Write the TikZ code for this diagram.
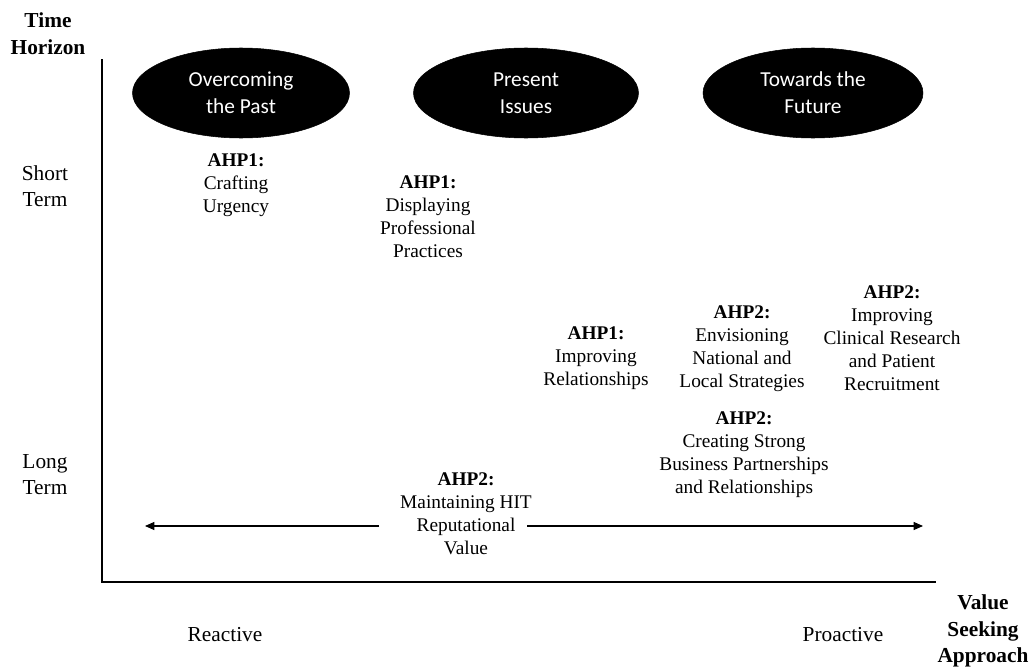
\documentclass[tikz,border=0pt]{standalone}
\usepackage{fontspec}
\setmainfont{Liberation Serif}
\newfontfamily\ellfont{Carlito}
\usetikzlibrary{shapes.geometric,arrows.meta}
\tikzset{
  phase/.style={ellipse, fill=black, draw=black, minimum height=90*0.75pt,
    inner sep=0pt, text=white, align=center, font=\ellfont\fontsize{16}{20}\selectfont},
  item/.style={align=center, inner sep=0pt, font=\fontsize{14.5}{17.25}\selectfont},
  axlabel/.style={align=center, inner sep=0pt, font=\fontsize{16}{19.5}\selectfont},
  axtitle/.style={align=center, inner sep=0pt, font=\bfseries\fontsize{16}{20}\selectfont},
  axisline/.style={line width=2.1pt},
  rangearrow/.style={line width=0.8pt, -{Triangle[length=7pt,width=6pt]}}
}
\begin{document}
\begin{tikzpicture}[x=0.75pt,y=-0.75pt]
\useasboundingbox (0,0) rectangle (1035,671);
% axes
\coordinate (o) at (102,582);
\coordinate (ytop) at (102,59);
\coordinate (xend) at (936,582);
\draw[axisline, line cap=butt] (ytop) -- (o) -- (xend);
% axis titles
\node[axtitle] (th) at (48,33.5) {Time\\Horizon};
\node[axtitle] (vs) at (983,631) {Value\\Seeking\\Approach};
\node[axlabel] (st) at (45,186) {Short\\Term};
\node[axlabel] (lt) at (45,475) {Long\\Term};
\node[axlabel] (re) at (225,635) {Reactive};
\node[axlabel] (pr) at (843,635) {Proactive};
% phases
\node[phase, minimum width=217*0.75pt] (p1) at (241,93) {Overcoming\\the Past};
\node[phase, minimum width=225*0.75pt] (p2) at (526,93) {Present\\Issues};
\node[phase, minimum width=220*0.75pt] (p3) at (813,93) {Towards the\\Future};
% items
\node[item] (a1) at (236,185) {\textbf{AHP1:}\\Crafting\\Urgency};
\node[item] (a2) at (428,216.5) {\textbf{AHP1:}\\Displaying\\Professional\\Practices};
\node[item] (a3) at (596,358.5) {\textbf{AHP1:}\\Improving\\Relationships};
\node[item] (a4) at (742,348.5) {\textbf{AHP2:}\\Envisioning\\National and\\Local Strategies};
\node[item] (a5) at (892,338) {\textbf{AHP2:}\\Improving\\Clinical Research\\and Patient\\Recruitment};
\node[item] (a6) at (744,455) {\textbf{AHP2:}\\Creating Strong\\Business Partnerships\\and Relationships};
\node[item] (a7) at (466,514) {\textbf{AHP2:}\\Maintaining HIT\\Reputational\\Value};
% range arrow
\coordinate (la) at (379,526);
\coordinate (ltip) at (145,526);
\coordinate (ra) at (527,526);
\coordinate (rtip) at (923,526);
\draw[rangearrow] (la) -- (ltip);
\draw[rangearrow] (ra) -- (rtip);
\end{tikzpicture}
\end{document}
